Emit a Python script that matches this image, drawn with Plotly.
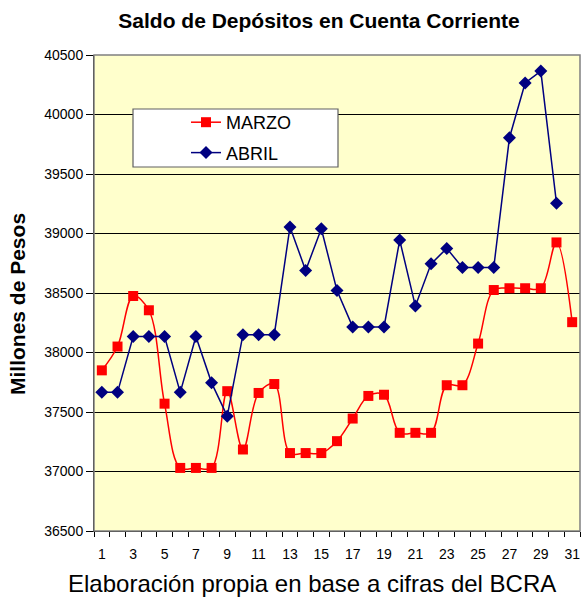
import plotly.graph_objects as go

dias = list(range(1, 32))
marzo = [37850, 38050, 38475, 38355, 37570, 37030, 37030, 37030, 37675, 37185,
         37660, 37735, 37155, 37155, 37155, 37255, 37445, 37635, 37645, 37325,
         37325, 37325, 37725, 37725, 38075, 38525, 38540, 38540, 38540, 38925, 38255]
abril = [37665, 37665, 38135, 38135, 38135, 37665, 38135, 37745, 37465, 38150,
         38150, 38150, 39055, 38690, 39040, 38520, 38215, 38215, 38215, 38945,
         38390, 38745, 38875, 38715, 38715, 38715, 39805, 40265, 40365, 39255]
tick_dias = list(range(1, 32, 2))
y_ticks = list(range(36500, 41000, 500))

FONT = "Arial, Liberation Sans, sans-serif"

W, H = 582, 610
PL, PR, PT, PB = 94, 580, 55, 531          # plot area in page pixels
PW, PH = PR - PL, PB - PT


def px_x(x):
    return (x - PL) / PW


def px_y(y):
    return (PB - y) / PH


fig = go.Figure()
fig.add_trace(go.Scatter(
    x=dias, y=marzo, name="MARZO", mode="lines+markers",
    line=dict(color="#FF0000", width=1.5, shape="spline", smoothing=1),
    marker=dict(symbol="square", size=10, color="#FF0000"),
    legendgroup="a",
))
fig.add_trace(go.Scatter(
    x=dias[:len(abril)], y=abril, name="ABRIL", mode="lines+markers",
    line=dict(color="#000080", width=1.5),
    marker=dict(symbol="diamond", size=10, color="#000080"),
    legendgroup="b",
))

fig.update_layout(
    width=W, height=H,
    margin=dict(l=PL, r=W - PR, t=PT, b=H - PB),
    paper_bgcolor="white", plot_bgcolor="#FFFFCC",
    font=dict(family=FONT, color="black", size=14),
    title=dict(text="<b>Saldo de Depósitos en Cuenta Corriente</b>",
               x=319 / W, xanchor="center", y=1 - 21 / H,
               yanchor="middle", font=dict(size=21, family=FONT)),
    showlegend=True,
    legend=dict(x=px_x(186), y=px_y(104), xanchor="left", yanchor="top",
                bgcolor="rgba(0,0,0,0)", borderwidth=0,
                font=dict(size=18, family=FONT),
                traceorder="grouped", tracegroupgap=4),
    xaxis=dict(range=[0.5, 31.5], tickmode="array", tickvals=tick_dias,
               ticktext=[str(d) for d in tick_dias],
               ticks="outside", ticklen=10, tickcolor="rgba(0,0,0,0)",
               showgrid=False, zeroline=False,
               showline=True, linecolor="black", linewidth=1,
               minor=dict(ticks="outside", tick0=0.5, dtick=1, ticklen=5,
                          tickcolor="black", showgrid=False),
               tickfont=dict(size=14)),
    yaxis=dict(range=[36500, 40500], tickmode="array", tickvals=y_ticks,
               ticktext=[str(v) for v in y_ticks],
               ticks="outside", ticklen=7, tickcolor="black",
               showgrid=True, gridcolor="black", gridwidth=1,
               zeroline=False, showline=True, linecolor="black", linewidth=1,
               tickfont=dict(size=14)),
    shapes=[
        dict(type="rect", xref="paper", yref="paper", x0=0, x1=1, y0=0, y1=1,
             line=dict(color="#808080", width=1.5), layer="above"),
        dict(type="rect", xref="paper", yref="paper",
             x0=px_x(133), x1=px_x(338), y0=px_y(167), y1=px_y(109),
             fillcolor="white", line=dict(color="#606060", width=1.2),
             layer="above"),
    ],
    annotations=[
        dict(text="<b>Millones de Pesos</b>", textangle=-90,
             xref="paper", yref="paper", x=px_x(17), y=px_y(304),
             xanchor="center", yanchor="middle", showarrow=False,
             font=dict(size=21, family=FONT)),
        dict(text="Elaboración propia en base a cifras del BCRA",
             xref="paper", yref="paper", x=px_x(312), y=px_y(583),
             xanchor="center", yanchor="middle", showarrow=False,
             font=dict(size=24, family=FONT)),
    ],
)

fig.write_html(
    "out.html",
    config={"displayModeBar": False},
    post_script="document.body.style.margin='0px';"
                "document.body.style.overflow='hidden';",
)
